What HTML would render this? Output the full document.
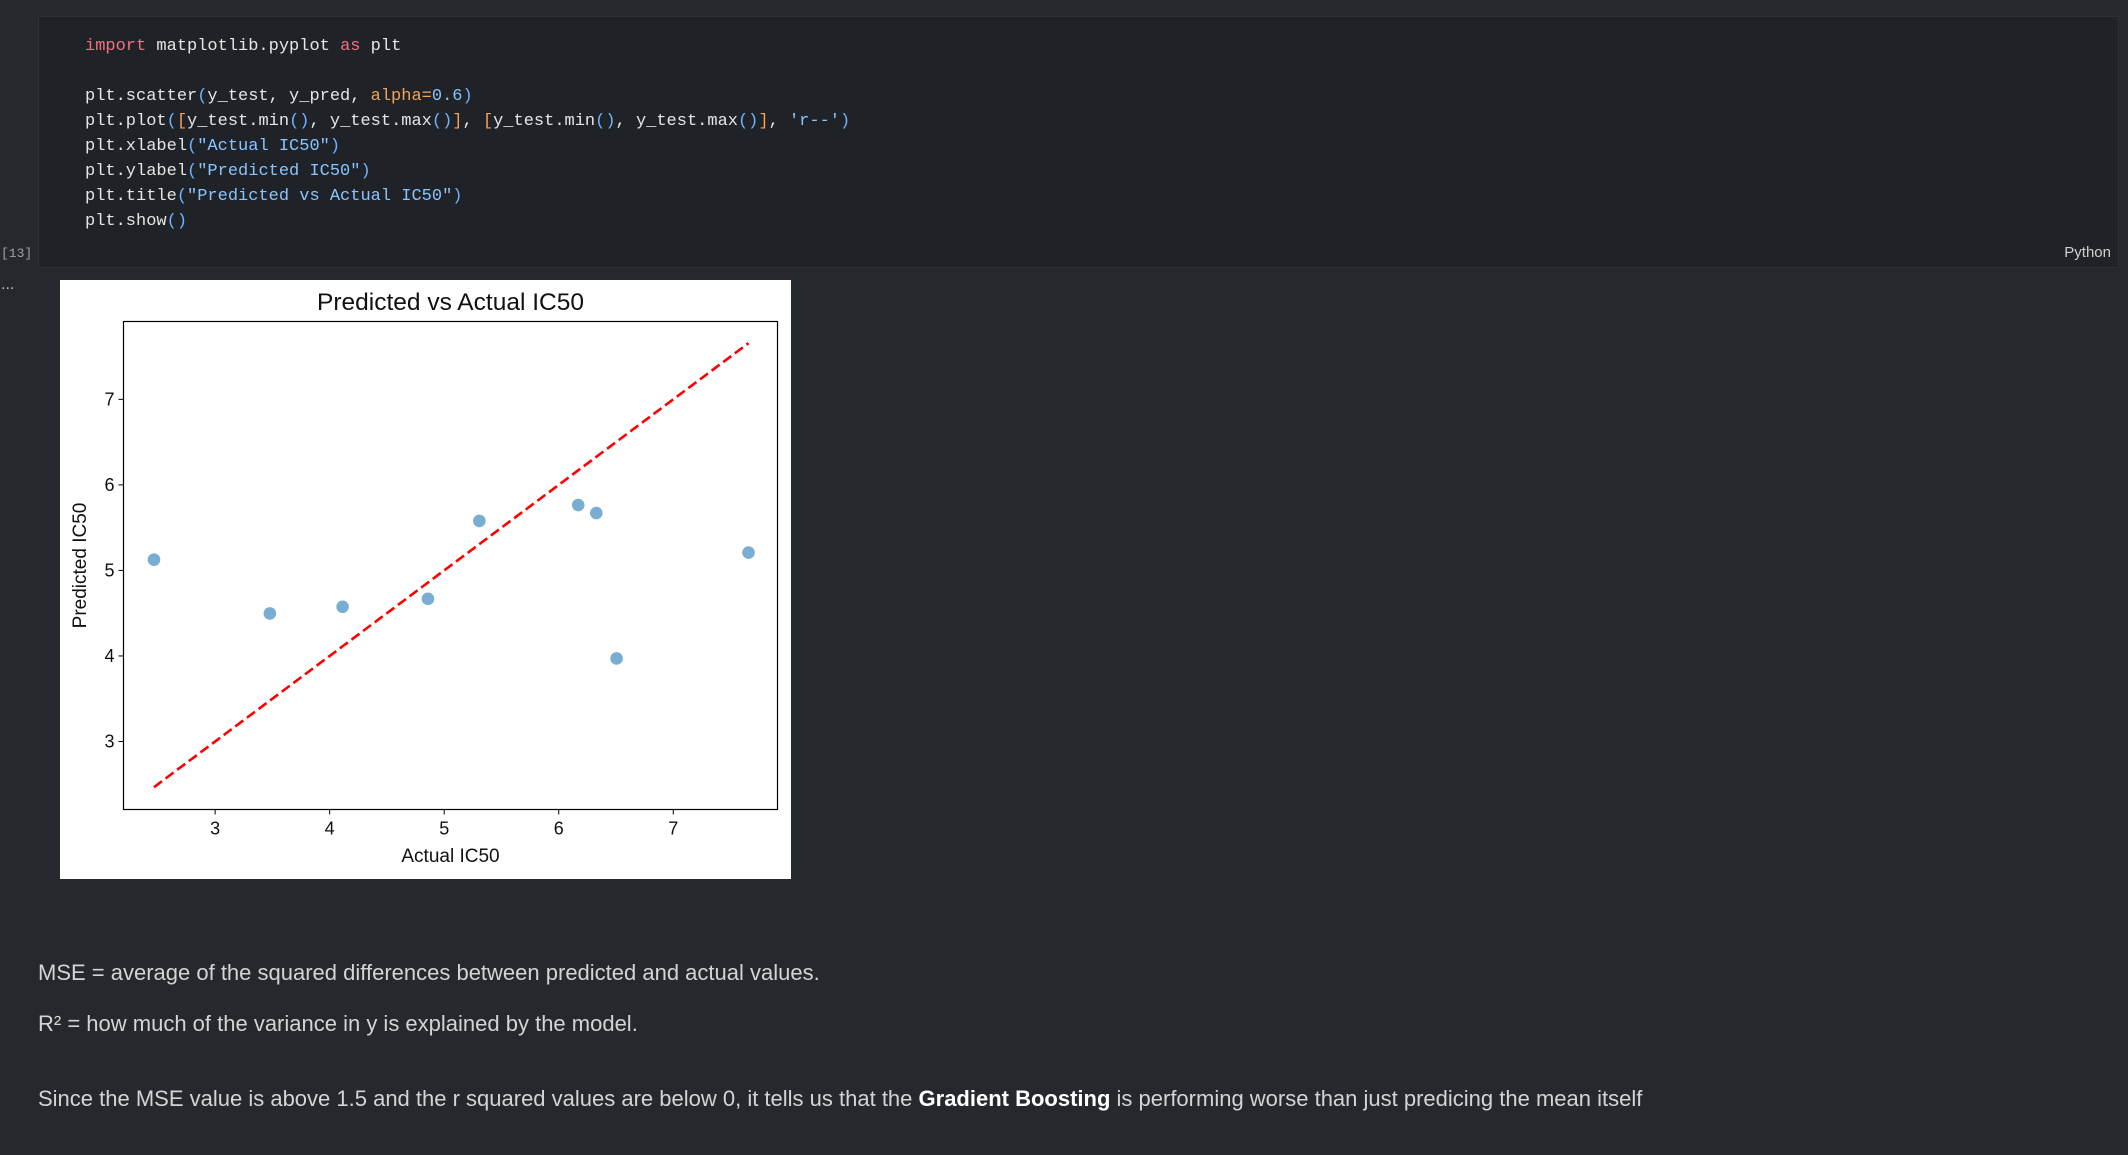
<!DOCTYPE html>
<html><head><meta charset="utf-8">
<style>
html,body{margin:0;padding:0;width:2128px;height:1155px;background:#25282d;overflow:hidden;font-family:"Liberation Sans",sans-serif;}
.abs{position:absolute;}
#code-cell{left:38px;top:16px;width:2079px;height:250px;background:#1f2227;border:1px solid #2c3035;}
.code{font-family:"Liberation Mono",monospace;font-size:17px;color:#e6e6e6;white-space:pre;left:85px;}
.kw{color:#f27083}.fn{color:#e6e6e6}.num{color:#f5a25b}.str{color:#8ac4ff}.br{color:#6fb3ff}
.md{left:38px;color:#d4d4d4;font-size:22px;white-space:nowrap;}
</style></head><body>
<div class="abs" id="code-cell"></div>
<div class="abs code" style="top:37px"><span class="kw">import</span> matplotlib.pyplot <span class="kw">as</span> plt</div>
<div class="abs code" style="top:87px">plt.scatter<span class="br">(</span>y_test, y_pred, <span class="num">alpha=</span><span class="str">0.6</span><span class="br">)</span></div>
<div class="abs code" style="top:112px">plt.plot<span class="br">(</span><span class="num">[</span>y_test.min<span class="br">()</span>, y_test.max<span class="br">()</span><span class="num">]</span>, <span class="num">[</span>y_test.min<span class="br">()</span>, y_test.max<span class="br">()</span><span class="num">]</span>, <span class="str">'r--'</span><span class="br">)</span></div>
<div class="abs code" style="top:137px">plt.xlabel<span class="br">(</span><span class="str">"Actual IC50"</span><span class="br">)</span></div>
<div class="abs code" style="top:162px">plt.ylabel<span class="br">(</span><span class="str">"Predicted IC50"</span><span class="br">)</span></div>
<div class="abs code" style="top:187px">plt.title<span class="br">(</span><span class="str">"Predicted vs Actual IC50"</span><span class="br">)</span></div>
<div class="abs code" style="top:212px">plt.show<span class="br">()</span></div>
<div class="abs" style="left:1px;top:246px;font-size:13px;color:#a0a0a0;font-family:'Liberation Mono',monospace">[13]</div>
<div class="abs" style="right:17px;top:244px;font-size:15px;color:#d0d0d0">Python</div>
<div class="abs" style="left:1px;top:276px;font-size:16px;color:#c0c0c0">...</div>

<svg class="abs" style="left:60px;top:280px" width="731" height="599" id="fig">
<rect x="0" y="0" width="731" height="599" fill="#fff"/>
</svg>

<div class="abs md" style="top:960px">MSE = average of the squared differences between predicted and actual values.</div>
<div class="abs md" style="top:1011px">R² = how much of the variance in y is explained by the model.</div>
<div class="abs md" style="top:1086px">Since the MSE value is above 1.5 and the r squared values are below 0, it tells us that the <b style="color:#fff">Gradient Boosting</b> is performing worse than just predicing the mean itself</div>

<script>
const actual = [2.466, 3.478, 4.113, 4.858, 5.307, 6.170, 6.328, 6.505, 7.657];
const predicted = [5.126, 4.497, 4.575, 4.668, 5.579, 5.764, 5.671, 3.971, 5.209];
const xTicks = [3, 4, 5, 6, 7];
const yTicks = [3, 4, 5, 6, 7];
const NS = "http://www.w3.org/2000/svg";
const svg = document.getElementById('fig');
const L = 63.5, R = 717.5, T = 41.5, B = 529.5;
const xMin = 2.2, xMax = 7.91, yMin = 2.205, yMax = 7.91;
const X = v => L + (v - xMin) / (xMax - xMin) * (R - L);
const Y = v => B - (v - yMin) / (yMax - yMin) * (B - T);
function mk(tag, attrs, parent) {
  const e = document.createElementNS(NS, tag);
  for (const k in attrs) e.setAttribute(k, attrs[k]);
  (parent || svg).appendChild(e);
  return e;
}
let t = mk('text', {x: (L + R) / 2, y: 30, 'text-anchor': 'middle', 'font-size': 24.5, fill: '#111', 'font-family': 'Liberation Sans, sans-serif'});
t.textContent = 'Predicted vs Actual IC50';


xTicks.forEach(v => {
  const l = mk('line', {x1: X(v), x2: X(v), y1: B, y2: B + 5, stroke: '#000', 'stroke-width': 1});
  
  
  const tx = mk('text', {x: X(v), y: B + 25, 'text-anchor': 'middle', 'font-size': 18, fill: '#111', 'font-family': 'Liberation Sans, sans-serif'});
  tx.textContent = v;
  
  
});
yTicks.forEach(v => {
  const l = mk('line', {x1: L - 5, x2: L, y1: Y(v), y2: Y(v), stroke: '#000', 'stroke-width': 1});
  
  
  const tx = mk('text', {x: L - 9, y: Y(v) + 6, 'text-anchor': 'end', 'font-size': 18, fill: '#111', 'font-family': 'Liberation Sans, sans-serif'});
  tx.textContent = v;
  
  
});
t = mk('text', {x: (L + R) / 2, y: 582, 'text-anchor': 'middle', 'font-size': 19, fill: '#111', 'font-family': 'Liberation Sans, sans-serif'});
t.textContent = 'Actual IC50';


t = mk('text', {x: 0, y: 0, 'text-anchor': 'middle', 'font-size': 19, fill: '#111', 'font-family': 'Liberation Sans, sans-serif', transform: `translate(26,${(T + B) / 2}) rotate(-90)`});
t.textContent = 'Predicted IC50';


actual.forEach((a, i) => {
  const c = mk('circle', {cx: X(a), cy: Y(predicted[i]), r: 6.3, fill: '#1f77b4', 'fill-opacity': 0.6});
  
  
});
const mn = Math.min(...actual), mx = Math.max(...actual);
const ln = mk('line', {x1: X(mn), y1: Y(mn), x2: X(mx), y2: Y(mx), stroke: '#ff0000', 'stroke-width': 2.6, 'stroke-dasharray': '10,4.5'});


const box = mk('rect', {x: L, y: T, width: R - L, height: B - T, fill: 'none', stroke: '#000', 'stroke-width': 1.2});


</script>
</body></html>
